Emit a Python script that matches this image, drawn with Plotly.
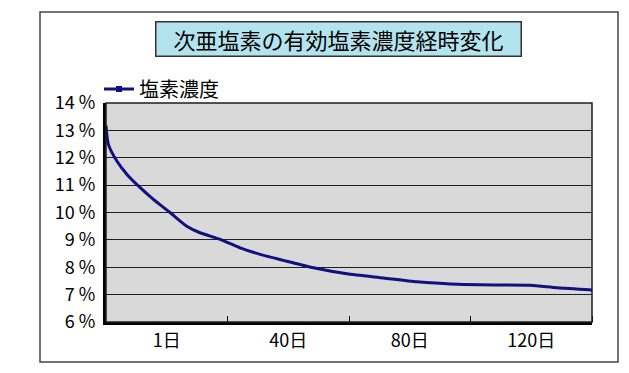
import plotly.graph_objects as go

# curve position along the category axis (0..4 = four category bins) and chlorine concentration (%)
t_pos = [0.0, 0.019, 0.088, 0.171, 0.266, 0.39, 0.527, 0.665, 0.774, 0.939, 1.104, 1.268,
         1.46, 1.708, 1.983, 2.284, 2.559, 2.834, 2.943, 3.2, 3.493, 3.713, 4.0]
conc = [13.17, 12.5, 11.89, 11.4, 10.97, 10.48, 10.0, 9.5, 9.26, 9.02, 8.71, 8.47,
        8.25, 7.98, 7.76, 7.61, 7.47, 7.39, 7.37, 7.35, 7.34, 7.25, 7.17]

cat_pos = [0.5, 1.5, 2.5, 3.5]
cat_labels = ["1日", "40日", "80日", "120日"]
y_ticks = [6, 7, 8, 9, 10, 11, 12, 13, 14]
y_labels = [f"{v} %" for v in y_ticks]

title_text = "次亜塩素の有効塩素濃度経時変化"
series_name = "塩素濃度"

FONT = "Noto Sans CJK JP"
NAVY = "#101080"

# page body adds an 8px offset; figure sized so it fits the window
OFF = 8
W, H = 629 - OFF, 373 - OFF
L, R, T, B = 106 - OFF, 37, 103 - OFF, 51
pw, ph = W - L - R, H - T - B

def px_x(p):
    return (p - OFF - L) / pw

def px_y(p):
    return (H - B - (p - OFF)) / ph

fig = go.Figure()
fig.add_trace(go.Scatter(
    x=t_pos, y=conc, mode="lines", showlegend=False,
    line=dict(color=NAVY, width=3, shape="spline", smoothing=0.6),
))
fig.add_trace(go.Scatter(
    x=[None], y=[None], mode="lines+markers", name=series_name,
    line=dict(color=NAVY, width=3),
    marker=dict(symbol="square", size=6, color=NAVY),
))

fig.update_layout(
    width=W, height=H,
    margin=dict(l=L, r=R, t=T, b=B),
    paper_bgcolor="white",
    plot_bgcolor="#d9d9d9",
    font=dict(family=FONT, size=18, color="black"),
    showlegend=True,
    legend=dict(x=px_x(99), y=px_y(89), xanchor="left", yanchor="middle",
                bgcolor="rgba(0,0,0,0)", itemwidth=30,
                font=dict(family=FONT, size=20)),
    xaxis=dict(
        range=[0, 4], tickmode="array", tickvals=cat_pos, ticktext=cat_labels,
        ticks="", showgrid=False, zeroline=False,
        showline=True, linecolor="black", linewidth=3,
        tickfont=dict(family=FONT, size=18),
        minor=dict(tickmode="array", tickvals=[1, 2, 3, 4], ticks="inside",
                   ticklen=6, tickcolor="black", tickwidth=1, showgrid=False),
    ),
    yaxis=dict(
        range=[6, 14], tickmode="array", tickvals=y_ticks, ticktext=y_labels,
        ticks="", showgrid=True, gridcolor="#1e1e1e", gridwidth=1, zeroline=False,
        showline=True, linecolor="black", linewidth=3,
        tickfont=dict(family=FONT, size=18),
        ticklabelstandoff=4,
    ),
    shapes=[
        dict(type="rect", xref="x domain", yref="y domain", x0=0, x1=1, y0=0, y1=1,
             line=dict(color="#1e1e1e", width=1.5), layer="above"),
        dict(type="rect", xref="paper", yref="paper",
             x0=px_x(40), x1=px_x(618), y0=px_y(362), y1=px_y(12),
             line=dict(color="#444444", width=1.5), layer="below"),
    ],
    annotations=[
        dict(text=title_text, xref="paper", yref="paper",
             x=px_x(338), y=px_y(39), xanchor="center", yanchor="middle",
             showarrow=False, font=dict(family=FONT, size=22, color="black"),
             bgcolor="#b3e3ee", bordercolor="#333333", borderwidth=1.5,
             width=362, height=31, borderpad=1),
    ],
)

fig.write_html("out.html")
